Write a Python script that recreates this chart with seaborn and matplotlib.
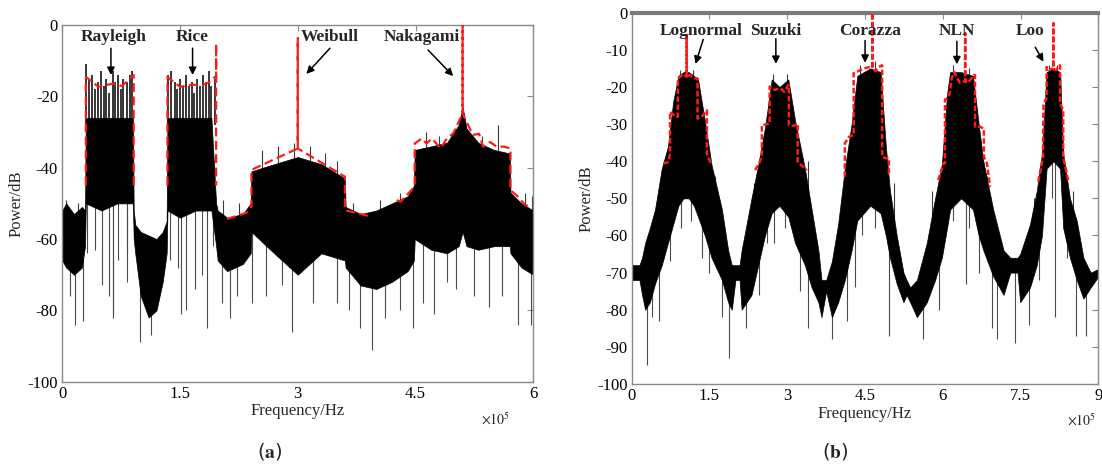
import matplotlib
matplotlib.use("Agg")
import matplotlib.pyplot as plt
import seaborn as sns
import numpy as np
from matplotlib.ticker import FuncFormatter

sns.set_theme(style="white")
plt.rcParams['font.family'] = ['Liberation Serif', 'DejaVu Serif']
plt.rcParams['mathtext.fontset'] = 'stix'

# ---------------- panel (a) data, frequency in 1e5 Hz ----------------
a_freq = [0, 0.05, 0.15, 0.25, 0.29, 0.30, 0.5, 0.7, 0.9, 0.91, 0.93, 1.0, 1.1, 1.2, 1.28, 1.33,
          1.34, 1.5, 1.7, 1.9, 1.96, 1.98, 2.1, 2.3, 2.4, 2.41, 2.7, 3.0, 3.3, 3.6, 3.61, 3.8, 4.0,
          4.2, 4.4, 4.48, 4.49, 4.7, 4.9, 5.05, 5.1, 5.15, 5.3, 5.5, 5.7, 5.71, 5.85, 6.0]
a_upper = [-52, -50, -53, -51, -52, -26, -26, -26, -26, -52, -56, -58, -59, -60, -58, -55,
           -26, -26, -26, -26, -50, -52, -54, -53, -50, -41, -39, -37, -39, -43, -51, -53, -52,
           -50, -48, -45, -35, -34, -33, -28, -23, -29, -33, -35, -36, -47, -50, -52]
a_lower = [-66, -68, -70, -68, -62, -50, -52, -50, -50, -60, -64, -76, -82, -80, -72, -64,
           -52, -54, -52, -52, -62, -66, -69, -67, -64, -58, -64, -70, -64, -66, -68, -73, -74,
           -72, -69, -66, -60, -63, -64, -62, -58, -62, -63, -62, -62, -64, -68, -70]

# comb teeth of the Rayleigh and Rice bands
a_comb_f = [0.30, 0.34, 0.38, 0.42, 0.45, 0.49, 0.53, 0.56, 0.60, 0.64, 0.67, 0.71, 0.75, 0.78,
            0.82, 0.86, 0.89, 1.35, 1.39, 1.43, 1.46, 1.50, 1.54, 1.57, 1.61, 1.65, 1.68, 1.72,
            1.76, 1.79, 1.83, 1.87, 1.90, 1.94]
a_comb_top = [-11, -15, -14, -18, -16, -13, -17, -15, -19, -13, -16, -14, -18, -15, -16, -14, -13,
              -14, -13, -16, -18, -15, -17, -14, -17, -16, -19, -15, -17, -14, -16, -13, -17, -15]

a_spike_f = [0.10, 0.165, 0.26, 0.31, 0.42, 0.50, 0.59, 0.64, 0.65, 0.71, 0.82, 0.83, 0.99, 1.125,
             1.37, 1.48, 1.51, 1.58, 1.69, 1.78, 1.85, 1.92, 2.04, 2.14, 2.22, 2.42, 2.6, 2.8,
             2.93, 3.2, 3.5, 3.65, 3.79, 3.95, 4.11, 4.3, 4.47, 4.6, 4.73, 4.9, 5.02, 5.25,
             5.43, 5.6, 5.81, 5.97]
a_spike_low = [-76, -84, -83, -64, -63, -73, -76, -82, -81, -66, -64, -72, -89, -87,
               -66, -68, -81, -80, -74, -70, -85, -62, -78, -82, -76, -78, -76, -73,
               -86, -78, -78, -80, -85, -91, -82, -80, -85, -78, -81, -72, -74, -76,
               -79, -76, -84, -84]
a_up_f = [0.05, 0.2, 2.05, 2.25, 2.55, 2.75, 2.95, 3.15, 3.35, 3.5, 3.7, 4.05, 4.3, 4.63,
          4.8, 5.0, 5.35, 5.55, 5.9, 5.98]
a_up_top = [-49, -50, -49, -50, -35, -34, -33, -34, -36, -38, -50, -49, -47, -30,
            -31, -29, -31, -28, -47, -48]

# red dashed envelopes (a)
a_red = [
    ([0.30, 0.30, 0.46, 0.65, 0.76, 0.91, 0.91],
     [-45, -14.5, -17.3, -16.4, -17.1, -14, -45]),
    ([1.34, 1.34, 1.50, 1.65, 1.78, 1.88, 1.94, 1.96, 1.96, 1.96],
     [-45, -14.6, -17.3, -16.7, -16.9, -15.9, -14.6, -14.6, -5.3, -45]),
    ([2.10, 2.35, 2.40, 2.41, 2.41, 3.0, 3.0, 3.0, 3.60, 3.60, 3.86, 3.90],
     [-54.4, -52.6, -51, -51, -40.6, -34.6, -3.7, -34.6, -42.5, -51.9, -53.3, -53.5]),
    ([4.26, 4.31, 4.49, 4.49, 4.58, 4.64, 4.71, 4.82, 4.90, 4.98, 5.10, 5.10, 5.10, 5.23, 5.31,
      5.36, 5.45, 5.53, 5.63, 5.71, 5.71, 5.80, 5.90, 6.0],
     [-49.1, -49.5, -45.3, -33.2, -31.8, -33.2, -31.8, -34.6, -31.8, -30.4, -24.8, 0, -24.8,
      -30.8, -30.5, -34.1, -32.8, -34, -34.1, -34.6, -46.3, -48, -50.5, -51]),
]

a_names = ["Rayleigh", "Rice", "Weibull", "Nakagami"]
a_text_xy = [(0.65, -3.4), (1.66, -3.4), (3.41, -3.4), (4.58, -3.4)]
a_arrow_from = [(0.62, -6.5), (1.66, -6.5), (3.41, -6.5), (4.66, -7.0)]
a_arrow_to = [(0.62, -14), (1.66, -14), (3.11, -13.7), (4.98, -14.3)]

# ---------------- panel (b) data ----------------
b_freq = [0, 0.15, 0.2, 0.26, 0.35, 0.45, 0.58, 0.70, 0.80, 0.90, 1.0, 1.1, 1.2, 1.28, 1.41, 1.54,
          1.74, 1.86, 1.93, 2.0, 2.08, 2.12, 2.31, 2.44, 2.57, 2.70, 2.85, 3.02, 3.15, 3.34, 3.47,
          3.60, 3.66, 3.75, 3.86, 3.98, 4.11, 4.24, 4.35, 4.6, 4.80, 4.90, 4.98, 5.11, 5.24, 5.30,
          5.37, 5.50, 5.69, 5.85, 5.98, 6.08, 6.14, 6.35, 6.58, 6.69, 6.78, 6.97, 7.17, 7.30,
          7.44, 7.49, 7.68, 7.81, 7.91, 8.0, 8.13, 8.26, 8.32, 8.45, 8.58, 8.71, 8.85, 9.0]
b_upper = [-68, -68, -66, -62, -58, -53, -42, -36, -24, -17, -16, -16, -17, -18, -29, -41,
           -53, -64, -68, -68, -68, -64, -50, -41, -31, -18, -20, -18, -29, -42, -53,
           -64, -72, -72, -67, -57, -42, -30, -17, -15, -16, -36, -48, -60, -70, -72,
           -74, -72, -62, -50, -41, -22, -16, -16, -17, -30, -40, -53, -64, -66,
           -66, -65, -57, -48, -38, -16, -15, -16, -38, -50, -56, -66, -70, -69]
b_lower = [-72, -72, -76, -80, -78, -73, -68, -62, -57, -52, -50, -50, -52, -55, -60, -66,
           -72, -78, -80, -72, -72, -80, -76, -68, -60, -54, -52, -55, -62, -68, -74,
           -78, -82, -75, -82, -78, -72, -64, -56, -52, -54, -60, -66, -73, -78, -76,
           -78, -82, -78, -72, -66, -58, -53, -50, -53, -60, -64, -71, -76, -70,
           -70, -78, -74, -68, -60, -42, -40, -42, -58, -66, -72, -77, -74, -71]

b_spike_f = [0.30, 0.40, 0.53, 0.73, 0.95, 1.15, 1.35, 1.49, 1.75, 1.88, 2.21, 2.45, 2.61, 2.75,
             2.95, 3.24, 3.40, 3.87, 4.16, 4.3, 4.45, 4.7, 4.96, 5.62, 5.92, 6.2, 6.44, 6.5,
             6.7, 6.94, 7.04, 7.40, 7.67, 7.85, 8.1, 8.16, 8.4, 8.56, 8.76]
b_spike_low = [-95, -82, -83, -67, -58, -56, -66, -70, -82, -93, -85, -76, -62, -62,
               -58, -75, -85, -88, -83, -74, -60, -58, -87, -88, -80, -56, -73, -58,
               -70, -85, -88, -89, -84, -72, -50, -82, -66, -87, -87]
b_up_f = [0.5, 0.93, 1.18, 1.6, 2.35, 2.72, 3.0, 3.4, 4.05, 4.4, 4.7, 5.05, 5.8, 6.2, 6.5,
          6.85, 7.75, 8.05, 8.2, 8.5]
b_up_top = [-50, -15.5, -15.5, -44, -46, -16.5, -16.5, -40, -50, -14, -13, -46, -48, -14, -15,
            -44, -50, -14, -14, -48]

b_red = [
    ([0.61, 0.71, 0.74, 0.74, 0.84, 0.89, 0.89, 1.0, 1.06, 1.06, 1.06, 1.12, 1.22, 1.27, 1.27,
      1.35, 1.45, 1.45, 1.54],
     [-40.6, -40.2, -38, -26.7, -28, -28, -17.7, -16.5, -17.3, -6, -17.3, -16.8, -17.7, -17.7,
      -28.5, -28, -26.3, -38, -41]),
    ([2.38, 2.47, 2.51, 2.51, 2.65, 2.66, 2.66, 2.76, 2.86, 2.94, 3.02, 3.03, 3.03, 3.12, 3.20,
      3.20, 3.38],
     [-42.4, -40.2, -38, -30.3, -29.9, -29.9, -19.9, -20.8, -20.3, -21.3, -19.5, -19.5, -30.3,
      -30.5, -29.9, -40.2, -42.4]),
    ([4.11, 4.11, 4.19, 4.28, 4.28, 4.47, 4.56, 4.64, 4.64, 4.64, 4.70, 4.76, 4.82, 4.83, 4.83,
      4.90, 4.96, 4.96, 4.99],
     [-44.2, -35.2, -33.4, -33, -16.3, -15.1, -14.7, -14.7, 0, -14.7, -15.8, -14.7, -14.2, -14.2,
      -38.8, -39.2, -39.2, -43.3, -43.3]),
    ([5.91, 6.01, 6.04, 6.04, 6.11, 6.14, 6.17, 6.22, 6.28, 6.33, 6.40, 6.43, 6.43, 6.43, 6.49,
      6.60, 6.62, 6.62, 6.72, 6.78, 6.79, 6.79, 6.85, 6.91],
     [-45.1, -40.6, -40.6, -23.5, -22.7, -21.1, -17.7, -16, -17.7, -18.9, -18.6, -18.6, -5.5,
      -18.6, -18.8, -16.8, -16.8, -30.7, -30.7, -31.2, -31.2, -38.8, -40.6, -46.9]),
    ([7.84, 7.93, 7.94, 7.99, 8.00, 8.00, 8.05, 8.10, 8.13, 8.13, 8.13, 8.18, 8.25, 8.26, 8.26,
      8.31, 8.32, 8.32, 8.42],
     [-45.5, -38.8, -24.9, -23.1, -23.1, -14.6, -15.5, -15.1, -15.1, -2.9, -15.1, -15.5, -14.2,
      -14.2, -24.5, -25.9, -25.9, -38.8, -45.5]),
]

b_names = ["Lognormal", "Suzuki", "Corazza", "NLN", "Loo"]
b_text_xy = [(1.34, -4.8), (2.78, -4.8), (4.6, -4.8), (6.27, -4.8), (7.68, -4.8)]
b_arrow_from = [(1.38, -7.2), (2.78, -7.0), (4.5, -7.5), (6.27, -7.7), (7.78, -9.3)]
b_arrow_to = [(1.23, -13.8), (2.78, -13.8), (4.5, -13.5), (6.27, -13.9), (7.94, -13.2)]

SPINE = "#8a8a8a"


def draw_panel(ax, freq, upper, lower, spike_f, spike_low, up_f, up_top, red, dash, red_lw,
               names, text_xy, arrow_from, arrow_to, xmax, xticks, yticks):
    # noise band
    ax.fill_between(freq, lower, upper, color="black", lw=0.5, zorder=2)
    ax.vlines(spike_f, spike_low, np.interp(spike_f, freq, lower) + 2,
              color="#4a4a4a", lw=0.8, zorder=1)
    ax.vlines(up_f, np.interp(up_f, freq, upper) - 2, up_top,
              color="#3a3a3a", lw=0.8, zorder=1)
    # red envelope
    for fx, fy in red:
        sns.lineplot(x=fx, y=fy, ax=ax, color="#ff1a1a", lw=red_lw, sort=False,
                     estimator=None, linestyle=(0, dash), zorder=4)
    for name, txy, a0, a1 in zip(names, text_xy, arrow_from, arrow_to):
        ax.text(txy[0], txy[1], name, ha="center", va="center", fontsize=12.5,
                fontweight="bold", zorder=6)
        ax.annotate("", xy=a1, xytext=a0,
                    arrowprops=dict(arrowstyle="-|>", color="black", lw=1.1,
                                    mutation_scale=11, shrinkA=0, shrinkB=0), zorder=6)
    ax.set_xlim(0, xmax)
    ax.set_ylim(-100, 0)
    ax.set_xticks(xticks)
    ax.set_yticks(yticks)
    ax.xaxis.set_major_formatter(FuncFormatter(lambda v, p: f"{v:g}"))
    ax.yaxis.set_major_formatter(FuncFormatter(lambda v, p: f"{v:g}"))
    ax.tick_params(direction="in", top=True, right=True, length=4, width=0.8,
                   color=SPINE, labelsize=12, labelcolor="black", pad=3)
    for s in ax.spines.values():
        s.set_color(SPINE)
        s.set_linewidth(1.0)
    ax.set_xlabel("Frequency/Hz", fontsize=12, labelpad=1)
    ax.set_ylabel("Power/dB", fontsize=12, labelpad=2)
    ax.grid(False)


fig = plt.figure(figsize=(11.02, 4.65), dpi=100)
ax1 = fig.add_axes([0.0565, 0.1791, 0.4274, 0.767])
ax2 = fig.add_axes([0.5732, 0.1742, 0.4236, 0.7985])

draw_panel(ax1, a_freq, a_upper, a_lower, a_spike_f, a_spike_low, a_up_f, a_up_top, a_red,
           (4, 2), 1.6, a_names, a_text_xy, a_arrow_from, a_arrow_to, 6,
           [0, 1.5, 3, 4.5, 6], [-100, -80, -60, -40, -20, 0])
ax1.vlines(a_comb_f, -28, a_comb_top, color="black", lw=1.1, zorder=3)

draw_panel(ax2, b_freq, b_upper, b_lower, b_spike_f, b_spike_low, b_up_f, b_up_top, b_red,
           (2.2, 1.0), 1.8, b_names, b_text_xy, b_arrow_from, b_arrow_to, 9,
           [0, 1.5, 3, 4.5, 6, 7.5, 9], list(range(-100, 1, 10)))
ax2.spines["top"].set_linewidth(3.0)
ax2.spines["top"].set_color("#7a7a7a")

ax1.text(0.92, -0.107, r"$\times10^5$", transform=ax1.transAxes, ha="center", va="center",
         fontsize=10)
ax2.text(0.963, -0.097, r"$\times10^5$", transform=ax2.transAxes, ha="center", va="center",
         fontsize=10)

fig.text(0.245, 0.028, r"($\mathbf{a}$)", ha="center", va="center", fontsize=14,
         family="DejaVu Sans")
fig.text(0.758, 0.028, r"($\mathbf{b}$)", ha="center", va="center", fontsize=14,
         family="DejaVu Sans")

fig.savefig("out.png", dpi=100)
